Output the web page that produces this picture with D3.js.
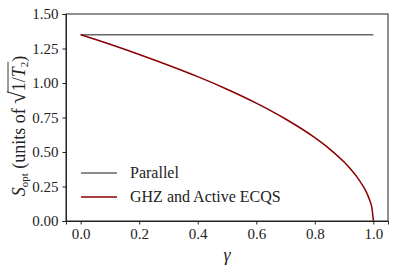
<!DOCTYPE html>
<meta charset="utf-8">
<style>
body { margin: 0; padding: 0; background: #fff; }
.axis path, .axis line { stroke: #222; }
</style>
<body>
<div id="chart"></div>
<script src="https://cdn.jsdelivr.net/npm/d3@7/dist/d3.min.js"></script>
<script>
// values
var gamma = [0, 0.1, 0.2, 0.3, 0.4, 0.5, 0.6, 0.7, 0.8, 0.85, 0.9, 0.925, 0.95, 0.97, 0.98, 0.99, 0.995, 1.0];
var ghz = [1.35, 1.281, 1.207, 1.129, 1.046, 0.955, 0.854, 0.739, 0.604, 0.523, 0.427, 0.370, 0.302, 0.234, 0.191, 0.135, 0.095, 0];
var parallel = [1.35, 1.35];
var parallelX = [0, 1];
var xTicks = [0, 0.2, 0.4, 0.6, 0.8, 1.0];
var yTicks = [0, 0.25, 0.5, 0.75, 1.0, 1.25, 1.5];

var width = 399, height = 270;
var margin = {top: 14, right: 11, bottom: 49, left: 66};
var serif = "Liberation Serif";

var svg = d3.select("#chart").append("svg")
		.attr("width", width)
		.attr("height", height);

var x = d3.scaleLinear().domain([-0.05, 1.05]).range([margin.left, width - margin.right]);
var y = d3.scaleLinear().domain([0, 1.5]).range([height - margin.bottom, margin.top]);

// axes
svg.append("g")
		.attr("class", "axis")
		.attr("font-family", serif)
		.attr("transform", "translate(0," + (height - margin.bottom) + ")")
		.call(d3.axisBottom(x).tickValues(xTicks).tickFormat(d3.format(".1f")).tickSizeOuter(0).tickSize(3.5).tickPadding(4))
		.call(function(g) { g.attr("font-family", serif).selectAll("text").attr("font-size", 15); });

svg.append("g")
		.attr("class", "axis")
		.attr("transform", "translate(" + margin.left + ",0)")
		.call(d3.axisLeft(y).tickValues(yTicks).tickFormat(d3.format(".2f")).tickSizeOuter(0).tickSize(3.5).tickPadding(4))
		.call(function(g) { g.attr("font-family", serif).selectAll("text").attr("font-size", 15); });

// box
svg.append("rect")
		.attr("x", margin.left)
		.attr("y", margin.top)
		.attr("width", width - margin.left - margin.right)
		.attr("height", height - margin.top - margin.bottom)
		.attr("fill", "none")
		.attr("stroke", "#222")
		.attr("stroke-width", 1);

var line = d3.line()
		.x(function(d) { return x(d[0]); })
		.y(function(d) { return y(d[1]); });

svg.append("path")
		.datum(d3.zip(parallelX, parallel))
		.attr("fill", "none")
		.attr("stroke", "#666")
		.attr("stroke-width", 1.5)
		.attr("d", line);

svg.append("path")
		.datum(d3.zip(gamma, ghz))
		.attr("fill", "none")
		.attr("stroke", "#8b0000")
		.attr("stroke-width", 1.5)
		.attr("d", line.curve(d3.curveMonotoneX));

// legend
var legend = [["Parallel", "#666"], ["GHZ and Active ECQS", "#8b0000"]];
legend.forEach(function(l, i) {
	var ly = 173 + i * 24;
	svg.append("line")
			.attr("x1", 81).attr("x2", 117)
			.attr("y1", ly).attr("y2", ly)
			.attr("stroke", l[1])
			.attr("stroke-width", 1.5);
	svg.append("text")
			.attr("x", 130).attr("y", ly + 5)
			.attr("font-size", 16)
			.text(l[0]);
});

// x label
svg.append("text")
		.attr("x", x(0.5))
		.attr("y", 261)
		.attr("text-anchor", "middle")
		.attr("font-size", 18)
		.attr("font-style", "italic")
		.text("γ");

// y label with radical
var yl = svg.append("g")
		.attr("transform", "translate(25,126) rotate(-90)");
var t = yl.append("text")
		.attr("text-anchor", "middle")
		.attr("font-size", 18);
t.append("tspan").attr("font-style", "italic").text("S");
t.append("tspan").attr("dy", 3).attr("font-size", 11).text("opt");
t.append("tspan").attr("dy", -3).text(" (units of ");
t.append("tspan").attr("font-size", 23).text("√");
t.append("tspan").text("1/");
t.append("tspan").attr("font-style", "italic").text("T");
t.append("tspan").attr("dy", 3).attr("font-size", 11).text("2");
t.append("tspan").attr("dy", -3).text(")");

// all text in a serif face
svg.selectAll("text").attr("font-family", serif).attr("fill", "#222");

// overline over the radicand
var node = t.node();
var n = node.getNumberOfChars();
var full = node.getComputedTextLength();
var startX = -full / 2;
var radEnd = startX + node.getSubStringLength(0, 16);
var innerEnd = startX + node.getSubStringLength(0, n - 1);
yl.append("line")
		.attr("x1", radEnd - 1).attr("x2", innerEnd)
		.attr("y1", -17).attr("y2", -17)
		.attr("stroke", "#222")
		.attr("stroke-width", 0.9);
</script>
</body>
